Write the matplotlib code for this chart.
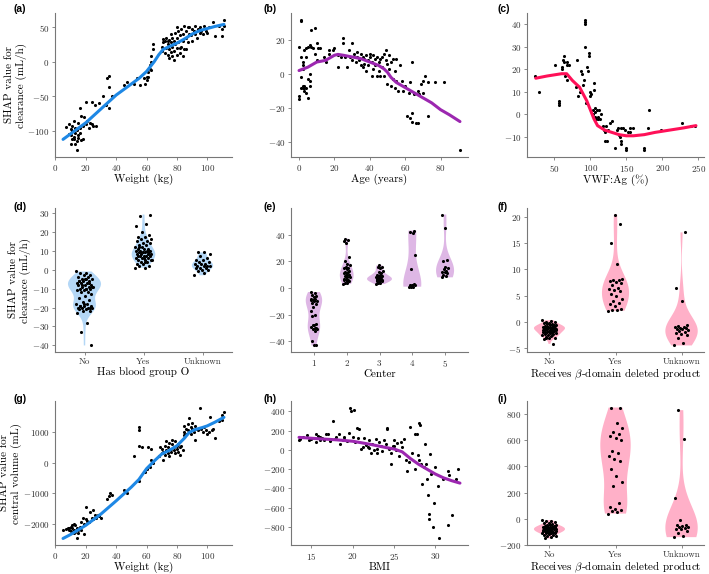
import numpy as np
import matplotlib
matplotlib.use("Agg")
import matplotlib.pyplot as plt

plt.rcParams['font.family'] = 'serif'
plt.rcParams['font.serif'] = ['cmr10']
plt.rcParams['mathtext.fontset'] = 'cm'
plt.rcParams['axes.formatter.use_mathtext'] = True

# ---- data ----
# (a) weight vs SHAP clearance
a_pts = [(7,-94),(9,-90),(10,-118),(10,-105),(11,-92),(11,-100),(12,-108),(12,-112),(13,-95),(13,-103),
         (14,-128),(14,-115),(14,-98),(15,-88),(15,-110),(16,-67),(16,-95),(17,-78),(17,-113),(18,-112),
         (19,-80),(20,-58),(20,-90),(21,-85),(22,-95),(23,-88),(24,-58),(24,-90),(25,-92),(26,-63),
         (27,-93),(12,-85),(13,-118),(10,-97),(15,-105),(18,-92),(16,-103),(11,-112),(9,-104),
         (29,-60),(31,-49),(33,-63),(34,-24),(35,-21),(35,-36),(35,-66),(37,-50),(45,-34),(47,-29),
         (52,-32),(54,-24),(56,-33),(58,-24),(59,-32),(60,-27),(61,-15),(61,-22),(62,-5),(62,-10),
         (63,-1),(63,8),(64,18),(64,26),(63,-12),(60,-22),
         (70,15),(70,22),(71,28),(71,33),(72,12),(72,30),(73,35),(73,20),(74,25),(74,10),(75,32),(75,18),
         (75,5),(76,28),(76,40),(77,22),(77,8),(77,35),(78,30),(78,15),(79,42),(79,25),(80,50),(80,20),
         (80,35),(81,28),(81,45),(82,38),(82,12),(83,22),(83,48),(84,30),(84,40),(85,52),(85,18),(86,35),
         (86,45),(87,28),(87,50),(88,40),(88,50),(89,38),(90,48),(90,30),(91,45),(92,52),(92,40),(93,35),
         (94,48),(95,50),(95,42),(96,45),(97,40),(98,52),(99,45),(100,42),(101,50),(104,57),(105,37),
         (108,52),(110,37),(110,48),(111,52),(111,61),(84,8),(78,3),(86,18),(82,20),(80,10),(74,30),(76,14)]
a_line = [(5,-112),(10,-104),(20,-88),(30,-68),(40,-48),(50,-32),(55,-24),(60,-14),(65,0),(68,10),(71,18),
          (75,22),(80,27),(85,33),(90,40),(95,45),(100,48),(105,51),(111,54)]

# (b) age
b_pts = [(1,32),(1,31),(0,16),(0,-13),(0,-15),(1,10),(1,-8),(1,-2),(2,7),(2,5),(2,-8),(2,-7),(2,3),(3,14),
         (3,-10),(3,-7),(3,-8),(4,15),(4,10),(4,-8),(4,-11),(5,16),(5,-3),(5,-14),(6,-7),(6,-4),(6,17),(6,0),
         (7,16),(7,26),(8,15),(9,27),(9,12),(10,18),(10,8),(11,15),(12,15),(14,10),(15,7),(17,14),(17,12),
         (19,14),(20,15),(22,11),(22,4),(24,10),(25,21),(25,18),(26,10),(27,4),(28,14),(29,10),(30,8),(30,18),
         (31,12),(32,7),(33,13),(33,10),(34,8),(35,12),(35,5),(36,10),(36,4),(37,9),(37,6),(38,11),(38,2),
         (39,8),(39,5),(40,10),(40,12),(41,7),(41,-1),(42,11),(42,3),(43,9),(43,5),(44,-1),(44,10),(45,7),
         (45,2),(46,-1),(46,9),(47,10),(47,4),(48,12),(48,-1),(49,14),(49,8),(50,6),(50,-6),(51,11),(51,3),
         (52,-7),(52,7),(53,9),(53,-3),(54,-8),(54,2),(55,9),(55,-4),(56,-10),(57,5),(58,-4),(59,-10),(60,-7),
         (61,-25),(62,-11),(63,-26),(63,-5),(64,7),(64,-23),(64,-28),(65,-12),(66,-29),(67,-29),(67,-10),
         (68,-12),(69,-6),(70,-4),(70,-11),(71,-1),(73,-25),(73,-5),(77,-5),(82,-5),(91,-45)]
b_line = [(0,2),(5,4),(10,7),(15,8),(20,11),(22,11.5),(25,11),(30,10),(35,9),(40,7),(45,5),(48,3),(50,1),
          (52,-2),(55,-5),(60,-8),(65,-11),(70,-14),(75,-17),(80,-21),(85,-24),(91,-28)]

# (c) VWF:Ag
c_pts = [(23,17),(28,10),(51,22),(56,4),(57,6),(57,5),(60,20),(60,21),(62,24),(63,26),(63,23),(65,17),
         (67,22),(68,15),(68,23),(70,22),(80,12),(81,24),(83,8),(85,10),(87,19),(88,18),(90,13),(91,15),
         (92,40),(92,42),(93,41),(93,30),(94,5),(96,21),(97,19),(98,27),(98,26),(99,8),(100,10),(101,9),
         (103,2),(104,0),(105,11),(105,14),(106,3),(107,-1),(107,1),(108,-2),(109,2),(110,-2),(111,-1),
         (112,2),(113,-2),(115,0),(117,-5),(119,-7),(120,-12),(121,-8),(122,-5),(123,-12),(125,-7),(128,-4),
         (130,-3),(134,-15),(137,-7),(139,-6),(140,-9),(141,-10),(142,-12),(142,-13),(143,-6),(146,-6),
         (148,-7),(150,-15),(150,-16),(152,-8),(155,-6),(155,-8),(160,-6),(175,-16),(175,-15),(180,-6),
         (182,2),(199,-7),(228,-4),(240,-5),(246,-5)]
c_line = [(24,16),(40,17),(60,18),(67,18),(75,15),(85,12),(95,6),(100,2),(105,-2),(110,-5),(120,-7),
          (130,-8),(140,-9),(150,-9.5),(160,-9.5),(175,-9),(190,-8),(210,-7),(230,-6),(247,-5)]

# (d) blood group O
d_cats = ['No', 'Yes', 'Unknown']
d_no = [-1,-2,-2,-3,-3,-4,-4,-5,-5,-5,-6,-6,-6,-7,-7,-7,-8,-8,-8,-9,-9,-9,-10,-10,-10,-11,-11,-12,-12,
        -13,-14,-15,-16,-17,-18,-18,-19,-19,-19,-20,-20,-20,-20,-21,-21,-22,-22,-23,-28,-33,-40,
        -5,-6,-7,-8,-9,-10,-19,-20,-18]
d_yes = [1,1,2,2,3,3,4,4,5,5,5,6,6,6,7,7,7,7,8,8,8,8,9,9,9,9,10,10,10,10,11,11,11,12,12,13,13,14,14,
         15,15,16,16,17,17,18,20,23,24,28,29,6,7,8,9,5,4,12,10]
d_unk = [-3,-2,-1,0,0,1,1,1,2,2,2,2,3,3,3,4,4,5,5,6,7,8,9,9]

# (e) center
e_cats = [1, 2, 3, 4, 5]
e_vals = [
    [-3,-4,-5,-6,-7,-8,-8,-9,-10,-10,-11,-12,-14,-17,-20,-21,-27,-28,-29,-30,-31,-31,-32,-40,-43,-43,-9,-30,-28],
    [3,4,4,5,5,6,6,7,8,8,9,10,10,11,12,12,13,14,15,15,16,17,18,20,23,34,35,36,37,10,11,7],
    [3,4,4,5,5,5,6,6,6,7,7,7,8,8,8,9,9,10,10,11,12,13,15,16,16,17,6,7,8],
    [1,1,1,2,2,2,3,14,25,41,42,43],
    [8,9,10,11,12,12,13,14,15,16,20,21,45,55],
]

# (f) beta-domain deleted, clearance
f_cats = ['No', 'Yes', 'Unknown']
f_no = [0.3,0.2,0,0,-0.2,-0.3,-0.5,-0.5,-0.6,-0.7,-0.8,-0.8,-0.9,-1,-1,-1,-1.1,-1.2,-1.2,-1.3,-1.4,-1.5,
        -1.5,-1.6,-1.7,-1.8,-1.9,-2,-2,-2.1,-2.2,-2.3,-2.4,-2.5,-2.6,-2.7,-2.8,-3,-3.1,-3.3,-4.2,-1,-1.3,
        -1.6,-2,-0.7,-1.1,-1.5,-2.5,-3]
f_yes = [2.1,2.2,2.3,2.5,3,3.3,3.5,4,4.4,5,5.3,5.8,6,6.2,6.5,7,7.3,7.5,7.7,8,8,8.2,11,15,18.6,20.4]
f_unk = [-4.5,-4,-3,-2.5,-2.3,-2.2,-2,-1.8,-1.5,-1.4,-1.3,-1.2,-1.1,-1,-0.9,-0.8,-0.6,4,6.5,17]

# (g) weight vs central volume
g_pts = [(5,-2200),(7,-2180),(8,-2150),(9,-2200),(10,-2100),(10,-2250),(11,-2130),(11,-2050),(12,-2300),
         (12,-2200),(13,-2050),(13,-2280),(14,-2450),(14,-2150),(15,-2300),(16,-2100),(17,-1950),(17,-2200),
         (18,-1800),(19,-2350),(19,-2000),(20,-1450),(20,-1850),(21,-1900),(22,-1950),(23,-1600),(24,-1800),
         (25,-1550),(25,-1850),(26,-1700),(27,-1800),(28,-1700),(29,-1750),(30,-1800),(12,-2000),(15,-2200),
         (9,-2150),(34,-1200),(35,-1100),(36,-1000),(37,-1050),(45,-900),(47,-1000),(52,200),(55,1150),
         (55,1050),(55,550),(55,-600),(57,500),(59,-300),(60,-200),(61,500),(62,-150),(63,450),(63,100),
         (64,0),(68,200),(69,500),(70,300),(70,450),(71,100),(71,350),(72,250),(72,550),(73,400),(73,700),
         (74,300),(74,500),(75,200),(75,650),(76,450),(76,350),(77,600),(77,750),(78,400),(78,500),(79,700),
         (79,300),(80,550),(80,450),(81,600),(81,350),(82,500),(82,250),(83,550),(84,400),(85,1000),(85,1200),
         (85,900),(86,1100),(86,950),(87,1050),(87,1250),(88,1000),(88,1450),(89,1150),(89,950),(90,1100),
         (90,1300),(91,1000),(92,750),(92,1200),(93,1100),(94,1050),(95,1800),(96,1100),(97,1000),(98,1150),
         (99,1050),(100,950),(101,1000),(102,1500),(103,1050),(104,1100),(105,800),(108,1350),(110,1550),
         (111,1650),(110,1400)]
g_line = [(5,-2480),(10,-2350),(20,-2050),(30,-1680),(40,-1250),(50,-800),(55,-550),(60,-200),(65,50),
          (70,280),(75,400),(80,550),(85,800),(88,980),(92,1080),(97,1150),(100,1200),(105,1320),(111,1480)]

# (h) BMI
h_pts = [(13.5,100),(14,130),(14.5,150),(14.7,100),(15,110),(15.3,120),(15.5,170),(15.6,80),(15.8,140),
         (16,100),(16.3,120),(16.5,100),(16.8,160),(17,170),(17.3,90),(17.6,300),(17.8,110),(18,130),
         (18.3,160),(18.5,60),(18.8,100),(19,110),(19.3,90),(19.6,180),(19.7,440),(19.8,400),(20,130),
         (20.2,410),(20.3,80),(20.5,230),(20.6,120),(20.8,220),(21,10),(21.2,30),(21.4,120),(21.6,50),
         (21.8,30),(22,100),(22.2,-30),(22.4,60),(22.6,0),(22.8,110),(23,-30),(23.2,80),(23.4,40),(23.6,-10),
         (23.8,100),(24,60),(24.1,230),(24.2,220),(24.4,10),(24.6,-30),(24.7,-150),(24.9,40),(25,100),
         (25.2,0),(25.4,70),(25.6,-60),(25.8,80),(26,30),(26.2,110),(26.5,-100),(26.6,-220),(26.8,-130),
         (27,240),(27.2,-30),(27.5,-200),(27.6,160),(27.8,170),(27.9,-50),(28,280),(28,-100),(28.2,260),
         (28.3,-150),(28.4,-350),(28.6,-180),(28.8,60),(28.9,-150),(29,-300),(29.1,-470),(29.2,-670),
         (29.3,-720),(29.4,-40),(29.5,-250),(29.7,-800),(29.8,-550),(30,-180),(30.3,-380),(30.5,-920),
         (31,-300),(31.5,-780),(31.6,-220),(31.7,-260),(32,-680),(32.5,-300),(32.8,-200),(13.6,110),
         (16,130),(19,130),(22,20),(23,10),(25,40)]
h_line = [(13.5,130),(16,115),(18,105),(20,90),(22,60),(24,25),(25,10),(26,-20),(27,-90),(28,-150),
          (29,-200),(30,-250),(31,-290),(32,-320),(33,-345)]

# (i) beta-domain deleted, central volume
i_no = [-10,-15,-20,-25,-30,-35,-40,-45,-50,-50,-55,-55,-60,-60,-60,-65,-65,-70,-70,-70,-75,-75,-80,-80,
        -80,-85,-85,-90,-90,-90,-95,-95,-100,-100,-105,-105,-110,-110,-115,-120,-125,-130,-135,-140,-150,
        -70,-80,-90,-60,-100]
i_yes = [40,50,60,70,75,90,120,250,280,330,380,440,460,480,500,520,600,620,630,650,660,690,730,845,850]
i_unk = [-140,-130,-110,-90,-80,-75,-70,-65,-60,-55,-50,-45,-10,160,610,830]

blue = '#1E88E5'
purple = '#9C27B0'
pink = '#FF1058'

fig = plt.figure(figsize=(7.09, 5.74), dpi=100)
cols = [55/709, 291/709, 527/709]
rows = [1 - 157/574, 1 - 352/574, 1 - 545/574]
w, h = 177/709, 144/574
axes = [[fig.add_axes([c, r, w, h]) for c in cols] for r in rows]

def style(ax):
    for s in ['top', 'right']:
        ax.spines[s].set_visible(False)
    for s in ['left', 'bottom']:
        ax.spines[s].set_color('#777777')
        ax.spines[s].set_linewidth(0.8)
    ax.tick_params(labelsize=6.5, length=2.5, width=0.6, pad=1.5,
                   color='#777777', labelcolor='#333333')

def scatter_line(ax, pts, line, color):
    p = np.array(pts, dtype=float)
    l = np.array(line, dtype=float)
    ax.scatter(p[:, 0], p[:, 1], s=5, color='black', linewidths=0, zorder=2)
    ax.plot(l[:, 0], l[:, 1], color=color, lw=2.2, zorder=3, solid_capstyle='round')

def violins(ax, groups, pos, widths, color, spread=0.24):
    parts = ax.violinplot(groups, positions=pos, widths=widths, showextrema=False)
    for b in parts['bodies']:
        b.set_facecolor(color)
        b.set_edgecolor('none')
        b.set_alpha(0.33)
    for p, g in zip(pos, groups):
        n = len(g)
        jit = ((np.arange(n) * 0.618034) % 1 - 0.5) * spread
        ax.scatter(p + jit, g, s=5, color='black', linewidths=0, zorder=3)

lab = dict(fontsize=8, labelpad=0.5)
ylab_cl = 'SHAP value for\nclearance (mL/h)'
ylab_v = 'SHAP value for\ncentral volume (mL)'
beta_lab = r'Receives $\beta$-domain deleted product'

# (a)
ax = axes[0][0]
scatter_line(ax, a_pts, a_line, blue)
ax.set_xticks([0, 20, 40, 60, 80, 100])
ax.set_yticks([-100, -50, 0, 50])
ax.set_xlabel('Weight (kg)', **lab)
ax.set_ylabel(ylab_cl, **lab)

# (b)
ax = axes[0][1]
scatter_line(ax, b_pts, b_line, purple)
ax.set_xticks([0, 20, 40, 60, 80])
ax.set_yticks([-40, -20, 0, 20])
ax.set_xlabel('Age (years)', **lab)

# (c)
ax = axes[0][2]
scatter_line(ax, c_pts, c_line, pink)
ax.set_xticks([50, 100, 150, 200, 250])
ax.set_yticks([-10, 0, 10, 20, 30, 40])
ax.set_xlabel('VWF:Ag (%)', **lab)

# (d)
ax = axes[1][0]
violins(ax, [d_no, d_yes, d_unk], [0, 1, 2], [0.56, 0.4, 0.36], blue, spread=0.28)
ax.set_xlim(-0.5, 2.5)
ax.set_xticks([0, 1, 2])
ax.set_xticklabels(d_cats)
ax.set_yticks(range(-40, 31, 10))
ax.set_xlabel('Has blood group O', **lab)
ax.set_ylabel(ylab_cl, **lab)

# (e)
ax = axes[1][1]
violins(ax, e_vals, e_cats, [0.5, 0.42, 0.76, 0.55, 0.55], purple, spread=0.2)
ax.set_xlim(0.3, 5.7)
ax.set_xticks(e_cats)
ax.set_yticks([-40, -20, 0, 20, 40])
ax.set_xlabel('Center', **lab)

# (f)
ax = axes[1][2]
violins(ax, [f_no, f_yes, f_unk], [0, 1, 2], [0.47, 0.41, 0.49], pink, spread=0.22)
ax.set_xlim(-0.34, 2.34)
ax.set_xticks([0, 1, 2])
ax.set_xticklabels(f_cats)
ax.set_yticks([-5, 0, 5, 10, 15, 20])
ax.set_xlabel(beta_lab, **lab)

# (g)
ax = axes[2][0]
scatter_line(ax, g_pts, g_line, blue)
ax.set_xticks([0, 20, 40, 60, 80, 100])
ax.set_yticks([-2000, -1000, 0, 1000])
ax.set_xlabel('Weight (kg)', **lab)
ax.set_ylabel(ylab_v, **lab)

# (h)
ax = axes[2][1]
scatter_line(ax, h_pts, h_line, purple)
ax.set_xticks([15, 20, 25, 30])
ax.set_yticks(range(-800, 401, 200))
ax.set_xlabel('BMI', **lab)

# (i)
ax = axes[2][2]
violins(ax, [i_no, i_yes, i_unk], [0, 1, 2], [0.47, 0.46, 0.49], pink, spread=0.22)
ax.set_xlim(-0.34, 2.34)
ax.set_xticks([0, 1, 2])
ax.set_xticklabels(f_cats)
ax.set_yticks(range(-200, 801, 200))
ax.set_xlabel(beta_lab, **lab)

for row in axes:
    for ax in row:
        style(ax)

# panel letters
letters = 'abcdefghi'
lx = [13, 263, 497]
ly = [4, 202, 394]
for r in range(3):
    for c in range(3):
        fig.text(lx[c] / 709, 1 - ly[r] / 574, f'({letters[r*3+c]})', fontsize=7.5,
                 fontweight='bold', family='Liberation Sans', va='top', ha='left')

fig.savefig('out.png', dpi=100)
